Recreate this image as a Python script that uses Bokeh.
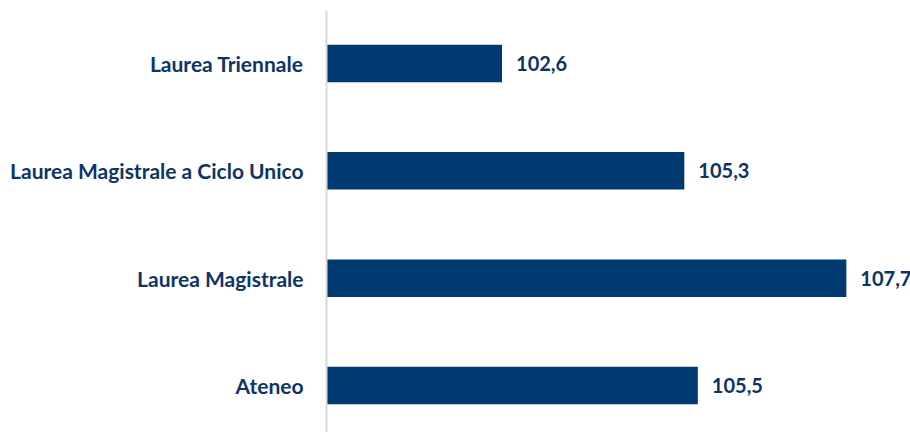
from bokeh.plotting import figure
from bokeh.models import ColumnDataSource, Range1d, FixedTicker
from bokeh.core.properties import value
from bokeh.embed import file_html
from bokeh.resources import INLINE

categories = ["Ateneo", "Laurea Magistrale", "Laurea Magistrale a Ciclo Unico", "Laurea Triennale"]
values = [105.5, 107.7, 105.3, 102.6]

BAR = "#003a70"
TXT = "#0d3466"
FONT = "Lato"

pos = list(range(len(categories)))
labels = [f"{v:.1f}".replace(".", ",") for v in values]
src = ColumnDataSource(dict(y=pos, v=values, left=[100] * len(values), lab=labels))

p = figure(width=910, height=432, output_backend="svg", toolbar_location=None,
           x_range=Range1d(100, 108.65), y_range=Range1d(-0.438, 3.494),
           x_axis_type=None, min_border_left=326, min_border_right=0,
           min_border_top=10, min_border_bottom=0)
p.outline_line_color = None
p.grid.visible = False
p.background_fill_color = "white"
p.border_fill_color = "white"

p.hbar(y="y", left="left", right="v", height=0.35, source=src,
       fill_color=BAR, line_color=None)
p.text(x="v", y="y", text="lab", source=src, x_offset=14,
       text_baseline="middle", text_align="left",
       text_font=value(FONT), text_font_style="bold", text_font_size="20px",
       text_color=TXT)

ax = p.yaxis[0]
ax.ticker = FixedTicker(ticks=pos)
ax.major_label_overrides = {i: c for i, c in zip(pos, categories)}
ax.major_tick_line_color = None
ax.minor_tick_line_color = None
ax.axis_line_color = "#d9d9d9"
ax.axis_line_width = 2
ax.major_label_standoff = 17
ax.major_label_text_font = FONT
ax.major_label_text_font_style = "bold"
ax.major_label_text_font_size = "21px"
ax.major_label_text_color = TXT

open("out.html", "w").write(file_html(p, INLINE))
